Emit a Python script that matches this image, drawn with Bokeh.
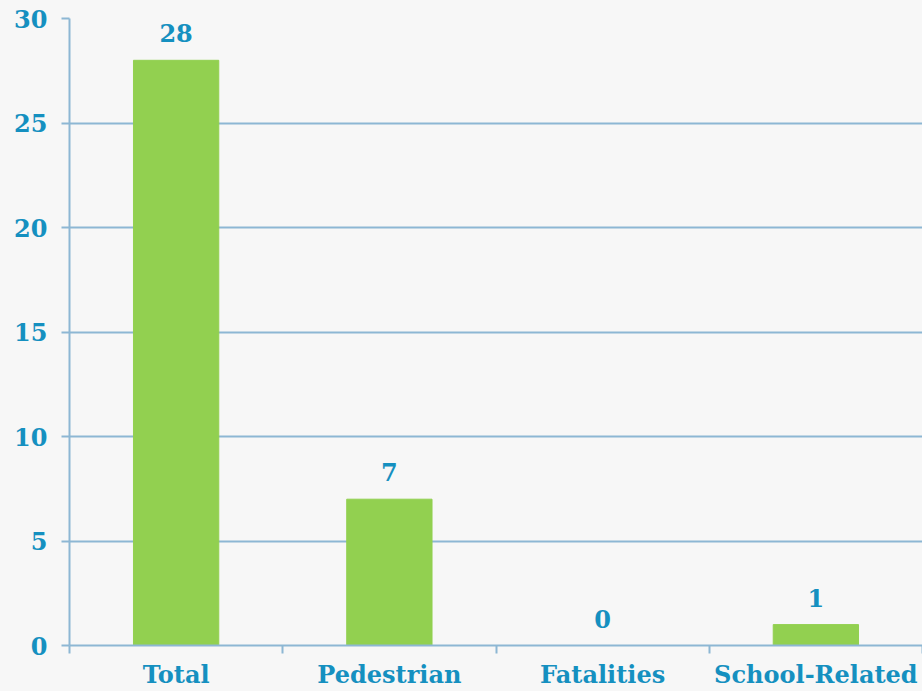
from bokeh.plotting import figure
from bokeh.models import ColumnDataSource, FixedTicker, LabelSet, Range1d
from bokeh.core.properties import value
from bokeh.embed import file_html
from bokeh.resources import INLINE

categories = ["Total", "Pedestrian", "Fatalities", "School-Related"]
values = [28, 7, 0, 1]
y_ticks = [0, 5, 10, 15, 20, 25, 30]

BG = "#f7f7f7"
GRID = "#8db7d4"
TEXT = "#1590c0"
BAR = "#92d050"
FONT = "DejaVu Serif"

xpos = [i + 0.5 for i in range(len(categories))]
src = ColumnDataSource(dict(x=xpos, v=values, lab=[str(v) for v in values]))

p = figure(width=922, height=691, output_backend="svg", toolbar_location=None,
           x_range=Range1d(0, len(categories)), y_range=Range1d(0, 30),
           min_border_left=69, min_border_right=0, min_border_top=18, min_border_bottom=46)
p.background_fill_color = BG
p.border_fill_color = BG
p.outline_line_color = None

p.vbar(x="x", top="v", width=0.4, source=src, color=BAR)

labels = LabelSet(x="x", y="v", text="lab", source=src, text_align="center",
                  text_baseline="bottom", y_offset=18, text_color=TEXT,
                  text_font=value(FONT), text_font_style="bold",
                  text_font_size=value("24px"))
p.add_layout(labels)

# y axis
p.yaxis.ticker = FixedTicker(ticks=y_ticks)
p.yaxis.axis_line_color = GRID
p.yaxis.axis_line_width = 2
p.yaxis.major_tick_line_color = GRID
p.yaxis.major_tick_line_width = 2
p.yaxis.major_tick_out = 8
p.yaxis.major_tick_in = 0
p.yaxis.minor_tick_line_color = None
p.yaxis.major_label_text_color = TEXT
p.yaxis.major_label_text_font = FONT
p.yaxis.major_label_text_font_style = "bold"
p.yaxis.major_label_text_font_size = "24px"
p.yaxis.major_label_standoff = 14

# x axis: labels at centres, ticks at boundaries
p.xaxis.ticker = FixedTicker(ticks=xpos, minor_ticks=list(range(len(categories) + 1)))
p.xaxis.major_label_overrides = {x: c for x, c in zip(xpos, categories)}
p.xaxis.axis_line_color = GRID
p.xaxis.axis_line_width = 2
p.xaxis.major_tick_line_color = None
p.xaxis.major_tick_out = 0
p.xaxis.minor_tick_line_color = GRID
p.xaxis.minor_tick_line_width = 2
p.xaxis.minor_tick_out = 8
p.xaxis.minor_tick_in = 0
p.xaxis.major_label_text_color = TEXT
p.xaxis.major_label_text_font = FONT
p.xaxis.major_label_text_font_style = "bold"
p.xaxis.major_label_text_font_size = "24px"
p.xaxis.major_label_standoff = 6

p.xgrid.grid_line_color = None
p.ygrid.ticker = FixedTicker(ticks=y_ticks)
p.ygrid.grid_line_color = GRID
p.ygrid.grid_line_width = 2

html = file_html(p, INLINE)
html = html.replace("<head>", "<head><style>body{background:%s;}</style>" % BG, 1)
open("out.html", "w").write(html)
